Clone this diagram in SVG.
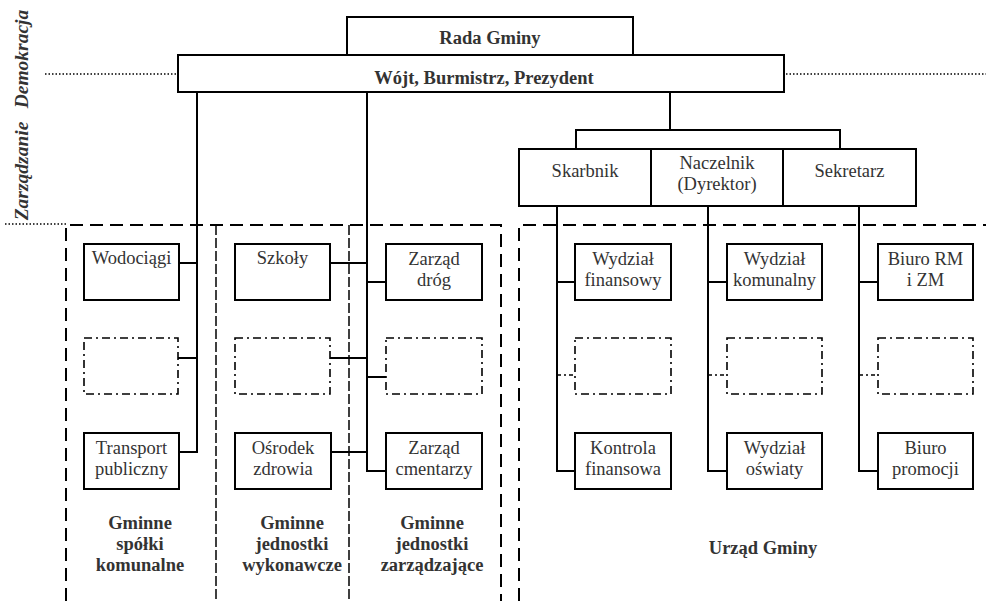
<svg xmlns="http://www.w3.org/2000/svg" width="986" height="601" viewBox="0 0 986 601">
<style>
.bx{fill:#fff;stroke:#000;stroke-width:2}
.dd{fill:none;stroke:#000;stroke-width:1.6;stroke-dasharray:8 4 2 4}
.ln{fill:none;stroke:#000;stroke-width:2}
.ddl{fill:none;stroke:#000;stroke-width:1.6;stroke-dasharray:4 3 2 3}
.grp{fill:none;stroke:#000;stroke-width:2;stroke-dasharray:13 7}
.div{fill:none;stroke:#000;stroke-width:1.5;stroke-dasharray:10 3}
.dot{fill:none;stroke:#000;stroke-width:1.5;stroke-dasharray:1.5 2}
.t{font-family:"Liberation Serif","Times New Roman",serif;font-size:18.5px;fill:#333;text-anchor:middle}
.b{font-family:"Liberation Serif","Times New Roman",serif;font-size:18.5px;font-weight:bold;fill:#333;text-anchor:middle}
.side{font-family:"Liberation Serif","Times New Roman",serif;font-size:19.5px;font-weight:bold;font-style:italic;fill:#333;text-anchor:middle}
</style>

<g id="separators">
<line class="dot" x1="45" y1="74" x2="178" y2="74"/>
<line class="dot" x1="786" y1="74" x2="986" y2="74"/>
<line class="dot" x1="5" y1="224" x2="66" y2="224"/>
</g>

<g id="side-labels">
<text class="side" transform="translate(28,59) rotate(-90)">Demokracja</text>
<text class="side" transform="translate(28,171) rotate(-90)">Zarządzanie</text>
</g>

<g id="group-areas">
<path class="grp" d="M66,601 V225 H501 V601"/>
<path class="grp" d="M519,601 V225 H986"/>
<line class="div" x1="216" y1="225" x2="216" y2="601"/>
<line class="div" x1="349" y1="225" x2="349" y2="601"/>
</g>

<g id="connectors">
<polyline class="ln" points="197,92 197,452 179,452"/>
<line class="ln" x1="179" y1="263" x2="197" y2="263"/>
<line class="ln" x1="178" y1="358" x2="197" y2="358"/>
<polyline class="ln" points="367,92 367,471 386,471"/>
<line class="ln" x1="330" y1="263" x2="367" y2="263"/>
<line class="ln" x1="367" y1="282" x2="386" y2="282"/>
<line class="ln" x1="330" y1="358" x2="367" y2="358"/>
<line class="ln" x1="367" y1="377" x2="386" y2="377"/>
<line class="ln" x1="331" y1="452" x2="367" y2="452"/>
<line class="ln" x1="670" y1="92" x2="670" y2="130"/>
<polyline class="ln" points="576,149 576,130 840,130 840,149"/>
<polyline class="ln" points="557,206 557,471 575,471"/>
<line class="ln" x1="557" y1="282" x2="575" y2="282"/>
<line class="ddl" x1="557" y1="375" x2="575" y2="375"/>
<polyline class="ln" points="708,206 708,471 727,471"/>
<line class="ln" x1="708" y1="282" x2="727" y2="282"/>
<line class="ddl" x1="708" y1="375" x2="727" y2="375"/>
<polyline class="ln" points="859,206 859,471 878,471"/>
<line class="ln" x1="859" y1="282" x2="878" y2="282"/>
<line class="ddl" x1="859" y1="375" x2="878" y2="375"/>
</g>

<g id="rada-gminy"><rect class="bx" x="347" y="17" width="286" height="38"/><text class="b" x="490" y="44">Rada Gminy</text></g>
<g id="wojt"><rect class="bx" x="178" y="55" width="606" height="37"/><text class="b" x="484" y="84">Wójt, Burmistrz, Prezydent</text></g>

<g id="skarbnik"><rect class="bx" x="519" y="149" width="132" height="57"/><text class="t" x="585" y="177">Skarbnik</text></g>
<g id="naczelnik"><rect class="bx" x="651" y="149" width="132" height="57"/><text class="t" x="717" y="169">Naczelnik</text><text class="t" x="717" y="190">(Dyrektor)</text></g>
<g id="sekretarz"><rect class="bx" x="783" y="149" width="133" height="57"/><text class="t" x="849.5" y="177">Sekretarz</text></g>

<g id="wodociagi"><rect class="bx" x="84" y="244" width="95" height="56"/><text class="t" x="131.5" y="264">Wodociągi</text></g>
<g id="spolki-empty"><rect class="dd" x="84" y="338" width="94" height="56"/></g>
<g id="transport"><rect class="bx" x="84" y="433" width="95" height="56"/><text class="t" x="131.5" y="454">Transport</text><text class="t" x="131.5" y="475">publiczny</text></g>

<g id="szkoly"><rect class="bx" x="235" y="244" width="95" height="56"/><text class="t" x="282.5" y="264">Szkoły</text></g>
<g id="wykonawcze-empty"><rect class="dd" x="235" y="338" width="95" height="56"/></g>
<g id="osrodek"><rect class="bx" x="235" y="433" width="96" height="56"/><text class="t" x="283" y="454">Ośrodek</text><text class="t" x="283" y="475">zdrowia</text></g>

<g id="zarzad-drog"><rect class="bx" x="386" y="244" width="96" height="56"/><text class="t" x="434" y="265">Zarząd</text><text class="t" x="434" y="286">dróg</text></g>
<g id="zarzadzajace-empty"><rect class="dd" x="386" y="338" width="96" height="56"/></g>
<g id="zarzad-cmentarzy"><rect class="bx" x="386" y="433" width="96" height="56"/><text class="t" x="434" y="454">Zarząd</text><text class="t" x="434" y="475">cmentarzy</text></g>

<g id="wydzial-finansowy"><rect class="bx" x="575" y="244" width="96" height="56"/><text class="t" x="623" y="265">Wydział</text><text class="t" x="623" y="286">finansowy</text></g>
<g id="skarbnik-empty"><rect class="dd" x="575" y="338" width="96" height="56"/></g>
<g id="kontrola"><rect class="bx" x="575" y="433" width="96" height="56"/><text class="t" x="623" y="454">Kontrola</text><text class="t" x="623" y="475">finansowa</text></g>

<g id="wydzial-komunalny"><rect class="bx" x="727" y="244" width="95" height="56"/><text class="t" x="774.5" y="265">Wydział</text><text class="t" x="774.5" y="286">komunalny</text></g>
<g id="naczelnik-empty"><rect class="dd" x="727" y="338" width="95" height="56"/></g>
<g id="wydzial-oswiaty"><rect class="bx" x="727" y="433" width="95" height="56"/><text class="t" x="774.5" y="454">Wydział</text><text class="t" x="774.5" y="475">oświaty</text></g>

<g id="biuro-rm"><rect class="bx" x="878" y="244" width="95" height="56"/><text class="t" x="925.5" y="265">Biuro RM</text><text class="t" x="925.5" y="286">i ZM</text></g>
<g id="sekretarz-empty"><rect class="dd" x="878" y="338" width="95" height="56"/></g>
<g id="biuro-promocji"><rect class="bx" x="878" y="433" width="95" height="56"/><text class="t" x="925.5" y="454">Biuro</text><text class="t" x="925.5" y="475">promocji</text></g>

<g id="group-labels">
<text class="b" x="140" y="529">Gminne</text><text class="b" x="140" y="550">spółki</text><text class="b" x="140" y="571">komunalne</text>
<text class="b" x="292" y="529">Gminne</text><text class="b" x="292" y="550">jednostki</text><text class="b" x="292" y="571">wykonawcze</text>
<text class="b" x="432" y="529">Gminne</text><text class="b" x="432" y="550">jednostki</text><text class="b" x="432" y="571">zarządzające</text>
<text class="b" x="763" y="554">Urząd Gminy</text>
</g>
</svg>
